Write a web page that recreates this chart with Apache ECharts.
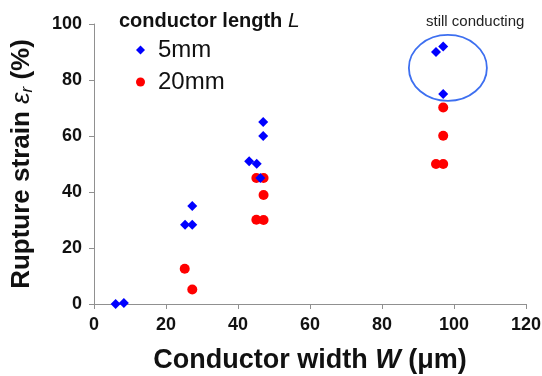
<!DOCTYPE html>
<html><head><meta charset="utf-8">
<script src="https://cdn.jsdelivr.net/npm/echarts@6/dist/echarts.min.js"></script>
<style>html,body{margin:0;padding:0;background:#fff}#c{width:542px;height:376px}</style>
</head><body><div id="c"></div>
<script>
const xTicks = [0, 20, 40, 60, 80, 100, 120];
const yTicks = [0, 20, 40, 60, 80, 100];
const seriesNames = ['5mm', '20mm'];
const width5mm = [6, 8.3, 25.3, 27.3, 27.3, 43.1, 45.2, 46.2, 47, 47, 95, 97, 97];
const strain5mm = [0, 0.4, 28.3, 28.3, 35, 51, 50.1, 45, 60, 65, 90, 92, 75];
const width20mm = [25.2, 27.3, 45.1, 47.1, 47.1, 45.1, 47.1, 97, 97, 95, 97];
const strain20mm = [12.6, 5.2, 45, 45, 38.9, 30.1, 30, 70.2, 60.1, 50, 50];
const annotationText = 'still conducting';
const legendTitle = 'conductor length ';
const ellipseCenter = [98.3, 84.3];

const chart = echarts.init(document.getElementById('c'));
const pts = (xs, ys) => xs.map((x, i) => [x, ys[i]]);
const FONT = '"Liberation Sans", Arial, sans-serif';
const axisLine = {show: true, lineStyle: {color: '#909090', width: 1}};
chart.setOption({
  animation: false,
  textStyle: {fontFamily: FONT},
  grid: {left: 94, right: 16, top: 24, bottom: 72, containLabel: false, outerBoundsMode: 'none'},
  xAxis: {
    type: 'value', min: xTicks[0], max: xTicks[xTicks.length - 1], interval: 20,
    splitLine: {show: false}, axisLine: axisLine,
    axisTick: {show: true, length: 5, lineStyle: {color: '#909090'}},
    axisLabel: {fontWeight: 'bold', fontSize: 18, color: '#111', margin: 12, fontFamily: FONT},
    name: 'Conductor width {i|W} (μm)', nameLocation: 'middle', nameGap: 43,
    nameTextStyle: {fontWeight: 'bold', fontSize: 27, color: '#111', fontFamily: FONT,
      rich: {i: {fontStyle: 'italic', fontWeight: 'bold', fontSize: 27, fontFamily: FONT, color: '#111'}}}
  },
  yAxis: {
    type: 'value', min: yTicks[0], max: yTicks[yTicks.length - 1], interval: 20,
    splitLine: {show: false}, axisLine: axisLine,
    axisTick: {show: true, length: 5, lineStyle: {color: '#909090'}},
    axisLabel: {fontWeight: 'bold', fontSize: 18, color: '#111', margin: 12, fontFamily: FONT},
    name: 'Rupture strain {e|ε}{s|r} (%)', nameLocation: 'middle', nameGap: 58, nameRotate: 90,
    nameTextStyle: {fontWeight: 'bold', fontSize: 26, color: '#111', fontFamily: FONT,
      rich: {
        e: {fontStyle: 'italic', fontWeight: 'normal', fontSize: 26, fontFamily: FONT, color: '#111'},
        s: {fontStyle: 'italic', fontWeight: 'normal', fontSize: 17, fontFamily: FONT, color: '#111', verticalAlign: 'bottom', padding: [11, 0, 0, 0]}
      }}
  },
  legend: {
    orient: 'vertical', left: 131, top: 33, itemGap: 8, itemWidth: 9, itemHeight: 9,
    data: [{name: seriesNames[0], icon: 'diamond'}, {name: seriesNames[1], icon: 'circle'}],
    textStyle: {fontSize: 24, color: '#111', fontFamily: FONT, padding: [0, 0, 0, 8]}
  },
  series: [
    {name: seriesNames[0], type: 'scatter', symbol: 'diamond', symbolSize: 10,
     itemStyle: {color: '#0000ff', opacity: 1}, data: pts(width5mm, strain5mm), z: 3},
    {name: seriesNames[1], type: 'scatter', symbol: 'circle', symbolSize: 10,
     itemStyle: {color: '#ff0000', opacity: 1}, data: pts(width20mm, strain20mm), z: 2}
  ]
});
const c = chart.convertToPixel({gridIndex: 0}, ellipseCenter);
chart.setOption({
  graphic: [
    {type: 'ellipse', shape: {cx: c[0], cy: c[1], rx: 39, ry: 33},
     style: {fill: 'none', stroke: '#3d6ff0', lineWidth: 1.8}, z: 10},
    {type: 'text', left: 426, top: 14,
     style: {text: annotationText, fontSize: 15, fill: '#222', fontFamily: FONT}},
    {type: 'text', left: 119, top: 11,
     style: {text: legendTitle + '{i|L}', fontSize: 20, fontWeight: 'bold', fill: '#111', fontFamily: FONT,
       rich: {i: {fontStyle: 'italic', fontWeight: 'normal', fontSize: 21, fontFamily: FONT, fill: '#111'}}}}
  ]
});
</script></body></html>
